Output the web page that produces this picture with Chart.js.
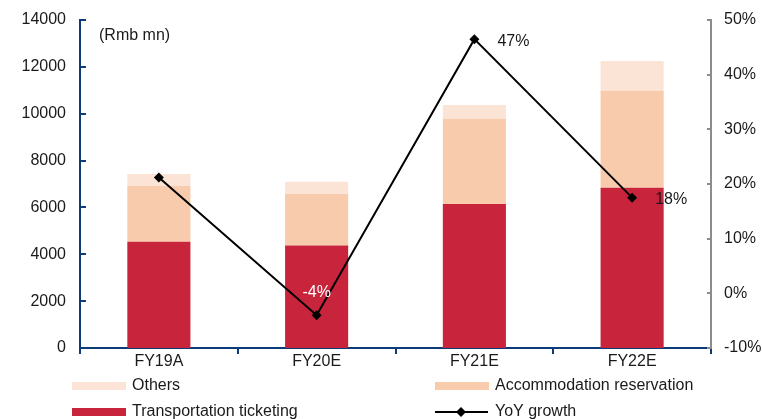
<!DOCTYPE html>
<html>
<head>
<meta charset="utf-8">
<script src="https://cdn.jsdelivr.net/npm/chart.js@4/dist/chart.umd.min.js"></script>
<style>
  html, body { margin: 0; padding: 0; background: #fff; }
  #wrap { width: 762px; height: 419px; position: relative; }
</style>
</head>
<body>
<div id="wrap"><canvas id="chart" width="762" height="419"></canvas></div>
<script>
// Data
const years = ['FY19A', 'FY20E', 'FY21E', 'FY22E'];
const transportation = [4540, 4370, 6150, 6840];
const accommodation = [2375, 2200, 3640, 4140];
const others = [515, 525, 585, 1270];
const yoyGrowth = [21.2, -4.0, 46.5, 17.5];
const growthLabels = ['', '-4%', '47%', '18%'];

const leftTicks = [0, 2000, 4000, 6000, 8000, 10000, 12000, 14000];
const rightTicks = [-10, 0, 10, 20, 30, 40, 50];

const axisBlue = '#0b3b78';
const axisGrey = '#8c8c8c';
const textColor = '#1a1a1a';
const fontFamily = '"Liberation Sans", Arial, sans-serif';

Chart.defaults.font.family = fontFamily;
Chart.defaults.font.size = 16;
Chart.defaults.color = textColor;

// Draws inner tick marks, unit note, value labels and the legend
const extrasPlugin = {
    id: 'extras',
    afterDraw(chart) {
        const ctx = chart.ctx;
        const area = chart.chartArea;
        const y = chart.scales.y;
        const y1 = chart.scales.y1;

        ctx.save();
        // inner ticks on the left axis
        ctx.strokeStyle = axisBlue;
        ctx.lineWidth = 2;
        leftTicks.forEach(v => {
            const py = Math.round(y.getPixelForValue(v));
            ctx.beginPath();
            ctx.moveTo(area.left, py);
            ctx.lineTo(area.left + 6, py);
            ctx.stroke();
        });
        // inner ticks on the right axis
        ctx.strokeStyle = axisGrey;
        rightTicks.forEach(v => {
            const py = Math.round(y1.getPixelForValue(v));
            ctx.beginPath();
            ctx.moveTo(area.right - 4, py);
            ctx.lineTo(area.right, py);
            ctx.stroke();
        });

        // unit note
        ctx.font = '16px ' + fontFamily;
        ctx.fillStyle = textColor;
        ctx.textAlign = 'left';
        ctx.textBaseline = 'middle';
        ctx.fillText('(Rmb mn)', 99, 36);

        // growth labels
        const meta = chart.getDatasetMeta(3);
        meta.data.forEach((pt, i) => {
            const label = growthLabels[i];
            if (!label) return;
            if (yoyGrowth[i] < 0) {
                ctx.fillStyle = '#ffffff';
                ctx.textAlign = 'center';
                ctx.fillText(label, pt.x, pt.y - 23);
            } else {
                ctx.fillStyle = textColor;
                ctx.textAlign = 'left';
                ctx.fillText(label, pt.x + 23, pt.y + 2);
            }
        });

        // legend
        const ds = chart.data.datasets;
        const items = [
            { ds: ds[2], x: 72, y: 386 },
            { ds: ds[1], x: 435, y: 386 },
            { ds: ds[0], x: 72, y: 412 },
            { ds: ds[3], x: 435, y: 412 }
        ];
        ctx.textAlign = 'left';
        items.forEach(it => {
            if (it.ds.type === 'line') {
                ctx.strokeStyle = '#000';
                ctx.lineWidth = 2;
                ctx.beginPath();
                ctx.moveTo(it.x, it.y);
                ctx.lineTo(it.x + 53, it.y);
                ctx.stroke();
                ctx.fillStyle = '#000';
                ctx.beginPath();
                ctx.moveTo(it.x + 26, it.y - 5);
                ctx.lineTo(it.x + 31, it.y);
                ctx.lineTo(it.x + 26, it.y + 5);
                ctx.lineTo(it.x + 21, it.y);
                ctx.closePath();
                ctx.fill();
            } else {
                ctx.fillStyle = it.ds.backgroundColor;
                ctx.fillRect(it.x, it.y - 4, 54, 8);
            }
            ctx.fillStyle = textColor;
            ctx.fillText(it.ds.label, it.x + 60, it.y);
        });
        ctx.restore();
    }
};

new Chart(document.getElementById('chart'), {
    type: 'bar',
    data: {
        labels: years,
        datasets: [
            {
                label: 'Transportation ticketing',
                data: transportation,
                backgroundColor: '#c8243b',
                yAxisID: 'y',
                order: 1
            },
            {
                label: 'Accommodation reservation',
                data: accommodation,
                backgroundColor: '#f7cbac',
                yAxisID: 'y',
                order: 1
            },
            {
                label: 'Others',
                data: others,
                backgroundColor: '#fbe4d5',
                yAxisID: 'y',
                order: 1
            },
            {
                type: 'line',
                label: 'YoY growth',
                data: yoyGrowth,
                yAxisID: 'y1',
                stack: 'growth',
                borderColor: '#000',
                borderWidth: 2,
                backgroundColor: '#000',
                pointStyle: 'rectRot',
                pointRadius: 5,
                pointBorderWidth: 0,
                tension: 0,
                order: 0
            }
        ]
    },
    options: {
        responsive: false,
        animation: false,
        layout: { padding: { top: 20, bottom: 0, left: 0, right: 0 } },
        datasets: {
            bar: { categoryPercentage: 1, barPercentage: 0.4 }
        },
        plugins: {
            legend: { display: false },
            tooltip: { enabled: false }
        },
        scales: {
            x: {
                stacked: true,
                offset: true,
                grid: {
                    offset: true,
                    drawOnChartArea: false,
                    drawTicks: true,
                    tickLength: 6,
                    color: axisBlue,
                    lineWidth: 2
                },
                border: { color: axisBlue, width: 2 },
                ticks: { padding: -2, color: textColor, font: { size: 16 } },
                afterFit: s => { s.height = 71; }
            },
            y: {
                stacked: true,
                position: 'left',
                min: 0,
                max: 14000,
                afterBuildTicks: s => { s.ticks = leftTicks.map(v => ({ value: v })); },
                grid: { display: false },
                border: { color: axisBlue, width: 2 },
                ticks: {
                    padding: 6,
                    color: textColor,
                    font: { size: 16 },
                    callback: v => String(v)
                },
                afterFit: s => { s.width = 80; }
            },
            y1: {
                position: 'right',
                stacked: false,
                min: -10,
                max: 50,
                afterBuildTicks: s => { s.ticks = rightTicks.map(v => ({ value: v })); },
                grid: { display: false },
                border: { color: axisGrey, width: 2 },
                ticks: {
                    padding: 5,
                    color: textColor,
                    font: { size: 16 },
                    callback: v => v + '%'
                },
                afterFit: s => { s.width = 51; }
            }
        }
    },
    plugins: [extrasPlugin]
});
</script>
</body>
</html>
